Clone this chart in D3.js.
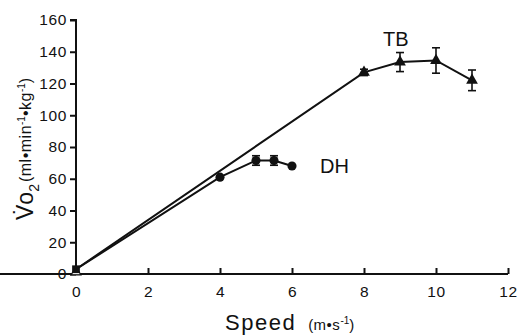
<!DOCTYPE html>
<html>
<head>
<meta charset="utf-8">
<script src="https://cdn.jsdelivr.net/npm/d3@7"></script>
<style>
  body { margin: 0; background: #fff; }
  text { font-family: "Liberation Sans", Arial, sans-serif; fill: #111; }
</style>
</head>
<body>
<svg width="526" height="335"></svg>
<script>
// speed (m/s) and VO2 (ml/min/kg)
const tbSpeed = [0, 8, 9, 10, 11];
const tbVo2 = [3, 127, 133.5, 134.5, 122];
const tbErr = [0, 2, 6, 8, 6.5];

const dhSpeed = [0, 4, 5, 5.5, 6];
const dhVo2 = [3, 61, 71.5, 71.5, 68];
const dhErr = [0, 1, 3, 3, 1];

const xTicks = [0, 2, 4, 6, 8, 10, 12];
const yTicks = [0, 20, 40, 60, 80, 100, 120, 140, 160];

const svg = d3.select("svg");

const x = d3.scaleLinear().domain([0, 12]).range([76, 508]);
const y = d3.scaleLinear().domain([0, 160]).range([274, 20]);

// axes
const xAxis = svg.append("g")
  .attr("transform", `translate(0,${y(0)})`)
  .call(d3.axisBottom(x).tickValues(xTicks).tickSize(-6).tickPadding(12));
const yAxis = svg.append("g")
  .attr("transform", `translate(${x(0)},0)`)
  .call(d3.axisLeft(y).tickValues(yTicks).tickSize(6).tickPadding(3));

[xAxis, yAxis].forEach(g => {
  g.select(".domain").attr("stroke", "#111").attr("stroke-width", 2);
  g.selectAll(".tick line").attr("stroke", "#111").attr("stroke-width", 2);
  g.selectAll(".tick text")
    .attr("font-size", 15.5)
    .attr("letter-spacing", 0.6)
    .attr("font-family", "Liberation Sans, Arial, sans-serif")
    .attr("fill", "#111");
});
yAxis.select(".domain").attr("d", `M-6,${y(160)}H0V${y(0)}`);
xAxis.select(".domain").attr("d", `M0,0H${x(12)}`);

const line = d3.line().x(d => x(d[0])).y(d => y(d[1]));

function drawSeries(speeds, vals, errs, shape) {
  const pts = speeds.map((s, i) => [s, vals[i], errs[i]]);
  svg.append("path")
    .datum(pts)
    .attr("d", line)
    .attr("fill", "none")
    .attr("stroke", "#111")
    .attr("stroke-width", 2);

  const eb = svg.append("g").attr("stroke", "#111").attr("stroke-width", 1.6);
  pts.filter(d => d[2] > 1.5).forEach(d => {
    const cx = x(d[0]), top = y(d[1] + d[2]), bot = y(d[1] - d[2]);
    eb.append("line").attr("x1", cx).attr("x2", cx).attr("y1", top).attr("y2", bot);
    eb.append("line").attr("x1", cx - 4).attr("x2", cx + 4).attr("y1", top).attr("y2", top);
    eb.append("line").attr("x1", cx - 4).attr("x2", cx + 4).attr("y1", bot).attr("y2", bot);
  });

  svg.append("g").selectAll("path")
    .data(pts.slice(1))
    .join("path")
    .attr("d", d3.symbol().type(shape).size(shape === d3.symbolTriangle ? 60 : 65))
    .attr("transform", d => `translate(${x(d[0])},${y(d[1])})`)
    .attr("fill", "#111");
}

drawSeries(tbSpeed, tbVo2, tbErr, d3.symbolTriangle);
drawSeries(dhSpeed, dhVo2, dhErr, d3.symbolCircle);

// markers at rest
svg.append("path")
  .attr("d", d3.symbol().type(d3.symbolTriangle).size(40))
  .attr("transform", `translate(${x(0)},${y(0) - 2})`)
  .attr("fill", "#fff").attr("stroke", "#111").attr("stroke-width", 1.3);
svg.append("path")
  .attr("d", d3.symbol().type(d3.symbolSquare).size(60))
  .attr("transform", `translate(${x(0)},${y(3)})`)
  .attr("fill", "#111");

// series labels
svg.append("text").attr("x", 383).attr("y", 46).attr("font-size", 20).text("TB");
svg.append("text").attr("x", 320).attr("y", 173).attr("font-size", 20).text("DH");

// x label
const xl = svg.append("text").attr("x", 225).attr("y", 330);
xl.append("tspan").attr("font-size", 22).attr("letter-spacing", 1.5).text("Speed");
xl.append("tspan").attr("font-size", 15).attr("dx", 12).attr("letter-spacing", 0.5).text("(m\u2022s");
xl.append("tspan").attr("font-size", 10).attr("dy", -6).text("-1");
xl.append("tspan").attr("font-size", 15).attr("dy", 6).text(")");

// y label
const yl = svg.append("text")
  .attr("transform", "translate(33,220) rotate(-90)");
yl.append("tspan").attr("font-size", 23).text("V\u0307o");
yl.append("tspan").attr("font-size", 14).attr("dy", 6).text("2");
yl.append("tspan").attr("font-size", 16).attr("dy", -8).attr("dx", 2).attr("letter-spacing", 0.5).text("(ml\u2022min");
yl.append("tspan").attr("font-size", 10).attr("dy", -6).text("-1");
yl.append("tspan").attr("font-size", 16).attr("dy", 6).attr("letter-spacing", 0.5).text("\u2022kg");
yl.append("tspan").attr("font-size", 10).attr("dy", -6).text("-1");
yl.append("tspan").attr("font-size", 16).attr("dy", 6).text(")");
</script>
</body>
</html>
